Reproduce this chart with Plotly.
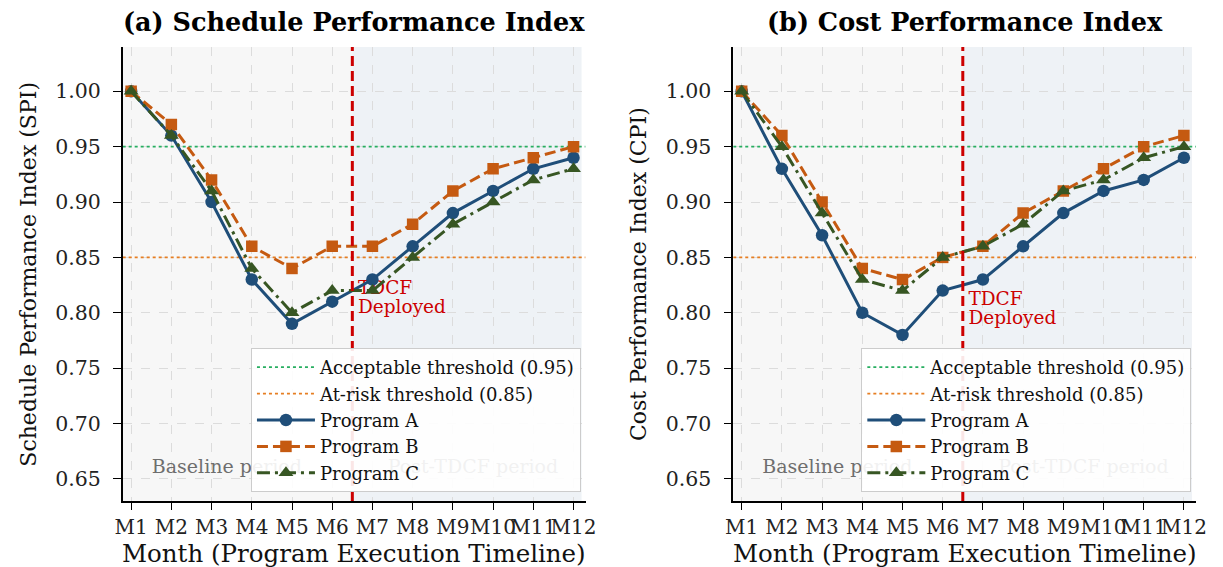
import plotly.graph_objects as go

# ---------------- data ----------------
months = ["M1", "M2", "M3", "M4", "M5", "M6", "M7", "M8", "M9", "M10", "M11", "M12"]

spi_a = [1.00, 0.96, 0.90, 0.83, 0.79, 0.81, 0.83, 0.86, 0.89, 0.91, 0.93, 0.94]
spi_b = [1.00, 0.97, 0.92, 0.86, 0.84, 0.86, 0.86, 0.88, 0.91, 0.93, 0.94, 0.95]
spi_c = [1.00, 0.96, 0.91, 0.84, 0.80, 0.82, 0.82, 0.85, 0.88, 0.90, 0.92, 0.93]

cpi_a = [1.00, 0.93, 0.87, 0.80, 0.78, 0.82, 0.83, 0.86, 0.89, 0.91, 0.92, 0.94]
cpi_b = [1.00, 0.96, 0.90, 0.84, 0.83, 0.85, 0.86, 0.89, 0.91, 0.93, 0.95, 0.96]
cpi_c = [1.00, 0.95, 0.89, 0.83, 0.82, 0.85, 0.86, 0.88, 0.91, 0.92, 0.94, 0.95]

acceptable = 0.95
at_risk = 0.85
deploy_pos = 5.5  # between M6 and M7

y_ticks = [0.65, 0.70, 0.75, 0.80, 0.85, 0.90, 0.95, 1.00]

# ---------------- styles ----------------
FONT = "DejaVu Serif"
X_RANGE = [-0.21, 11.3]
Y_RANGE = [0.63, 1.04]
C_A, C_B, C_C = "#1f4e79", "#c55a11", "#375623"
C_ACC, C_RISK = "#27ae60", "#e67e22"
RED = "#cc0000"

x_idx = list(range(len(months)))

fig = go.Figure()

panels = [
    dict(xa="x", ya="y", leg="legend", a=spi_a, b=spi_b, c=spi_c, ty=0.821),
    dict(xa="x2", ya="y2", leg="legend2", a=cpi_a, b=cpi_b, c=cpi_c, ty=0.811),
]

for p in panels:
    common = dict(xaxis=p["xa"], yaxis=p["ya"])
    # background texts (beneath data)
    fig.add_trace(go.Scatter(x=[2.38, 8.5], y=[0.66, 0.66], mode="text",
                             text=["Baseline period", "Post-TDCF period"],
                             textfont=dict(family=FONT, size=19, color="#6e6e6e"),
                             textposition="middle center", showlegend=False,
                             hoverinfo="skip", **common))
    fig.add_trace(go.Scatter(x=[deploy_pos + 0.14, deploy_pos + 0.14],
                             y=[p["ty"], p["ty"] - 0.017], mode="text",
                             text=["TDCF", "Deployed"],
                             textfont=dict(family=FONT, size=18.5, color=RED),
                             textposition="middle right", showlegend=False,
                             hoverinfo="skip", **common))
    # thresholds
    fig.add_trace(go.Scatter(x=X_RANGE, y=[acceptable, acceptable], mode="lines",
                             line=dict(color=C_ACC, width=1.8, dash="dot"),
                             name="Acceptable threshold (0.95)", legend=p["leg"],
                             legendgroup="acc", **common))
    fig.add_trace(go.Scatter(x=X_RANGE, y=[at_risk, at_risk], mode="lines",
                             line=dict(color=C_RISK, width=1.8, dash="dot"),
                             name="At-risk threshold (0.85)", legend=p["leg"],
                             legendgroup="risk", **common))
    # programs
    fig.add_trace(go.Scatter(x=x_idx, y=p["a"], mode="lines+markers", name="Program A",
                             line=dict(color=C_A, width=3),
                             marker=dict(symbol="circle", size=12.5, color=C_A),
                             legend=p["leg"], legendgroup="A", **common))
    fig.add_trace(go.Scatter(x=x_idx, y=p["b"], mode="lines+markers", name="Program B",
                             line=dict(color=C_B, width=3, dash="11px,5px"),
                             marker=dict(symbol="square", size=11.5, color=C_B),
                             legend=p["leg"], legendgroup="B", **common))
    fig.add_trace(go.Scatter(x=x_idx, y=p["c"], mode="lines+markers", name="Program C",
                             line=dict(color=C_C, width=3, dash="13px,5px,3px,5px"),
                             marker=dict(symbol="triangle-up", size=13, color=C_C),
                             legend=p["leg"], legendgroup="C", **common))

W, H = 1223, 567
def px_x(v):
    return v / W
def px_y(v):
    return 1 - v / H

dom1 = [px_x(116.5), px_x(586.7)]
dom2 = [px_x(736.7), px_x(1206.7)]
ydom = [px_y(501), px_y(47)]

axis_common_x = dict(range=X_RANGE, tickmode="array", tickvals=x_idx, ticktext=months,
                     tickangle=0,
                     showline=True, linecolor="black", linewidth=1.5, ticks="outside",
                     ticklen=7, tickwidth=1.3, tickcolor="black",
                     showgrid=True, gridcolor="#dcdcdc", griddash="dash", gridwidth=1,
                     zeroline=False, tickfont=dict(family=FONT, size=20, color="#222"))
axis_common_y = dict(range=Y_RANGE, tickmode="array", tickvals=y_ticks,
                     ticktext=[f"{v:.2f}" for v in y_ticks],
                     showline=True, linecolor="black", linewidth=1.5, ticks="outside",
                     ticklen=8, tickwidth=1.3, tickcolor="black", ticklabelstandoff=8,
                     showgrid=True, gridcolor="#dcdcdc", griddash="dash", gridwidth=1,
                     zeroline=False, tickfont=dict(family=FONT, size=20.5, color="#222"))

shapes = []
for xa, ya in [("x", "y"), ("x2", "y2")]:
    shapes.append(dict(type="rect", xref=xa, yref=f"{ya} domain", x0=X_RANGE[0], x1=deploy_pos,
                       y0=0, y1=1, fillcolor="#f7f7f7", line=dict(width=0), layer="below"))
    shapes.append(dict(type="rect", xref=xa, yref=f"{ya} domain", x0=deploy_pos, x1=11.2,
                       y0=0, y1=1, fillcolor="#eef2f6", line=dict(width=0), layer="below"))
    shapes.append(dict(type="line", xref=xa, yref=f"{ya} domain", x0=deploy_pos, x1=deploy_pos,
                       y0=0, y1=1, line=dict(color=RED, width=3, dash="10px,5px"), layer="above"))

legend_common = dict(xanchor="right", yanchor="bottom", bgcolor="rgba(255,255,255,0.9)",
                     bordercolor="#cccccc", borderwidth=1, tracegroupgap=0, itemwidth=58,
                     font=dict(family=FONT, size=18, color="#111"))

annotations = [
    dict(text="<b>(a) Schedule Performance Index</b>", xref="paper", yref="paper",
         x=(dom1[0] + dom1[1]) / 2, y=px_y(22), xanchor="center", yanchor="middle",
         showarrow=False, font=dict(family=FONT, size=25.5, color="black")),
    dict(text="<b>(b) Cost Performance Index</b>", xref="paper", yref="paper",
         x=(dom2[0] + dom2[1]) / 2, y=px_y(22), xanchor="center", yanchor="middle",
         showarrow=False, font=dict(family=FONT, size=25.5, color="black")),
    dict(text="Month (Program Execution Timeline)", xref="paper", yref="paper",
         x=(dom1[0] + dom1[1]) / 2, y=px_y(553), xanchor="center", yanchor="middle",
         showarrow=False, font=dict(family=FONT, size=24.5, color="#111")),
    dict(text="Month (Program Execution Timeline)", xref="paper", yref="paper",
         x=(dom2[0] + dom2[1]) / 2, y=px_y(553), xanchor="center", yanchor="middle",
         showarrow=False, font=dict(family=FONT, size=24.5, color="#111")),
    dict(text="Schedule Performance Index (SPI)", xref="paper", yref="paper",
         x=px_x(20), y=(ydom[0] + ydom[1]) / 2, xanchor="center", yanchor="middle",
         textangle=-90, showarrow=False, font=dict(family=FONT, size=22, color="#111")),
    dict(text="Cost Performance Index (CPI)", xref="paper", yref="paper",
         x=px_x(640), y=(ydom[0] + ydom[1]) / 2, xanchor="center", yanchor="middle",
         textangle=-90, showarrow=False, font=dict(family=FONT, size=22, color="#111")),
]

fig.update_layout(
    width=W, height=H,
    margin=dict(l=0, r=0, t=0, b=0),
    paper_bgcolor="white", plot_bgcolor="white",
    font=dict(family=FONT),
    xaxis=dict(domain=dom1, anchor="y", **axis_common_x),
    yaxis=dict(domain=ydom, anchor="x", **axis_common_y),
    xaxis2=dict(domain=dom2, anchor="y2", **axis_common_x),
    yaxis2=dict(domain=ydom, anchor="x2", **axis_common_y),
    legend=dict(x=px_x(582), y=px_y(492), **legend_common),
    legend2=dict(x=px_x(1202), y=px_y(492), **legend_common),
    shapes=shapes,
    annotations=annotations,
    hovermode=False,
)

fig.write_html("out.html", config={"displayModeBar": False},
               post_script="document.body.style.margin='0';")
